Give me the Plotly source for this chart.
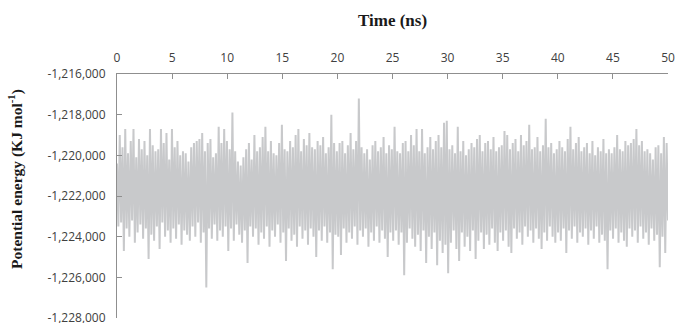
import plotly.graph_objects as go

# Hand-read upper excursions (every 0.25 ns, 0..50 ns)
peaks = [
    -1220400, -1219000, -1219600, -1218700, -1219900, -1219300, -1218700, -1220100, -1219200, -1219700,
    -1219300, -1220000, -1218700, -1219500, -1219800, -1219700, -1218700, -1219400, -1218900, -1220200,
    -1218700, -1219600, -1219300, -1220000, -1219800, -1219900, -1220300, -1219600, -1219400, -1219300,
    -1219200, -1218900, -1219800, -1219400, -1219200, -1220100, -1219900, -1218600, -1219400, -1218700,
    -1219300, -1219700, -1217900, -1219800, -1220300, -1220500, -1220100, -1219700, -1219400, -1220200,
    -1219000, -1219800, -1219600, -1219100, -1218600, -1219800, -1219300, -1219900, -1220000, -1219400,
    -1218500, -1219700, -1219800, -1219300, -1219600, -1219000, -1218700, -1219800, -1219200, -1219500,
    -1218900, -1219600, -1219700, -1219300, -1219500, -1219100, -1219900, -1219600, -1218000, -1219400,
    -1219800, -1219400, -1219300, -1219900, -1219500, -1218900, -1219700, -1219300, -1217200, -1219600,
    -1219900, -1219700, -1220200, -1219500, -1219300, -1219800, -1219600, -1219100, -1219900, -1219500,
    -1219700, -1218600, -1219800, -1219900, -1219400, -1219300, -1219800, -1219000, -1219500, -1218700,
    -1219800, -1218700, -1219900, -1219600, -1219100, -1219700, -1219300, -1219000, -1219600, -1218400,
    -1218300, -1219700, -1219500, -1219900, -1218600, -1219800, -1219300, -1220000, -1219700, -1219400,
    -1219600, -1219200, -1219000, -1219800, -1219400, -1219300, -1219700, -1219100, -1219800, -1219600,
    -1219500, -1218800, -1219000, -1219700, -1219400, -1219200, -1219800, -1219000, -1219500, -1219300,
    -1218500, -1219700, -1219600, -1219100, -1219800, -1219500, -1218200, -1219600, -1219400, -1219900,
    -1219700, -1219300, -1219600, -1219800, -1219200, -1218600, -1219700, -1219400, -1219100, -1219800,
    -1219600, -1219400, -1219900, -1219300, -1220000, -1219600, -1219800, -1219200, -1219900, -1219700,
    -1219900, -1219600, -1219000, -1219700, -1219800, -1219300, -1219500, -1219400, -1219200, -1218700,
    -1219500, -1219300, -1219800, -1219700, -1219900, -1220200, -1219600, -1219500, -1219900, -1219100,
    -1219400,
]

# Hand-read lower excursions (every 0.25 ns, 0..50 ns)
troughs = [
    -1223500, -1223300, -1224700, -1223600, -1224000, -1223200, -1224300, -1223800, -1223400, -1224100,
    -1223600, -1225100, -1223900, -1224200, -1223500, -1224600, -1223300, -1224000, -1223700, -1224300,
    -1223600, -1224100, -1223400, -1224400, -1223700, -1223900, -1224200, -1223500, -1224000, -1223300,
    -1224300, -1223800, -1226500, -1223600, -1224100, -1223400, -1224200, -1223700, -1224000, -1223500,
    -1224700, -1223600, -1224200, -1223400, -1223900, -1224300, -1223700, -1225300, -1223500, -1224000,
    -1223600, -1224400, -1223800, -1224100, -1223500, -1224500, -1223700, -1224000, -1223400, -1224300,
    -1223800, -1225200, -1223600, -1224200, -1223900, -1224500, -1223500, -1224100, -1223700, -1224400,
    -1223600, -1224000, -1225000, -1223700, -1224200, -1223500, -1224300, -1223800, -1225600, -1223900,
    -1224000, -1224900, -1223600, -1224300, -1223800, -1224100, -1223500, -1224400, -1223700, -1224000,
    -1223600, -1224500, -1223800, -1224200, -1223500, -1224300, -1223700, -1224100, -1225000, -1223800,
    -1224200, -1223700, -1224400, -1223800, -1225900, -1224300, -1223600, -1224100, -1224500, -1223900,
    -1224700, -1223700, -1225300, -1224000, -1224600, -1223800, -1225400, -1224200, -1224800, -1224400,
    -1225800, -1224300, -1223700, -1224600, -1225200, -1223800, -1224500, -1224000, -1224700, -1223700,
    -1225100, -1224200, -1223800, -1224600, -1223900, -1224400, -1223600, -1224300, -1224700, -1223800,
    -1224200, -1223700, -1224500, -1224800, -1223600, -1224100, -1223800, -1224400, -1223500, -1224000,
    -1223700, -1224300, -1223600, -1224100, -1224600, -1223800, -1224200, -1223500, -1224000, -1224300,
    -1223800, -1224200, -1223600, -1224800, -1223700, -1224100, -1223500, -1224300, -1223800, -1224000,
    -1223600, -1224400, -1223700, -1224100, -1223500, -1224300, -1223900, -1224200, -1225600, -1223700,
    -1224100, -1223600, -1224300, -1223800, -1224200, -1224500, -1223600, -1224000, -1223700, -1224300,
    -1223500, -1224100, -1223800, -1224400, -1223600, -1224200, -1223900, -1225500, -1224000, -1224800,
    -1223200,
]

x_ticks = [0, 5, 10, 15, 20, 25, 30, 35, 40, 45, 50]
y_ticks = [-1216000, -1218000, -1220000, -1222000, -1224000, -1226000, -1228000]
y_tick_labels = [f"{v:,}" for v in y_ticks]

# interleave upper/lower readings into one trace
energy = []
for p, t in zip(peaks, troughs):
    energy.append(p)
    energy.append(t)
n = len(energy)
time = [50.0 * i / (n - 1) for i in range(n)]

fig = go.Figure()
fig.add_trace(go.Scatter(
    x=time, y=energy, mode="lines",
    line=dict(color="#c8c9cb", width=2),
    showlegend=False, hoverinfo="skip",
))

axis_line = "#8f8f8f"
tick_font = dict(family="Open Sans", size=12, color="#404040")

fig.update_layout(
    width=675, height=323,
    margin=dict(l=117, r=7, t=74, b=5, autoexpand=False),
    paper_bgcolor="white", plot_bgcolor="white",
    xaxis=dict(
        side="top", range=[0, 50], tickvals=x_ticks,
        showgrid=False, zeroline=False, automargin=False,
        showline=True, linecolor=axis_line, linewidth=1,
        ticks="inside", ticklen=5, tickcolor=axis_line,
        tickfont=tick_font, ticklabelstandoff=6, ticklabeloverflow="allow",
    ),
    yaxis=dict(
        range=[-1228000, -1216000], tickvals=y_ticks, ticktext=y_tick_labels,
        showgrid=False, zeroline=False, automargin=False,
        showline=True, linecolor=axis_line, linewidth=1,
        ticks="inside", ticklen=5, tickcolor=axis_line,
        tickfont=tick_font, ticklabelstandoff=8, ticklabeloverflow="allow",
    ),
    annotations=[
        dict(text="<b>Time (ns)</b>", xref="paper", yref="paper",
             x=0.5, y=1 + (74 - 20) / 244, xanchor="center", yanchor="middle",
             showarrow=False, font=dict(family="Liberation Serif", size=17, color="#1a1a1a")),
        dict(text="<b>Potential energy (KJ mol<sup>-1</sup>)</b>", xref="paper", yref="paper",
             x=(15 - 117) / 551, y=(318 - 179) / 244, xanchor="center", yanchor="middle",
             textangle=-90, showarrow=False,
             font=dict(family="Liberation Serif", size=15.5, color="#1a1a1a")),
    ],
)

fig.write_html(
    "out.html",
    config={"displayModeBar": False},
    post_script="document.body.style.margin='0';document.body.style.overflow='hidden';",
)
